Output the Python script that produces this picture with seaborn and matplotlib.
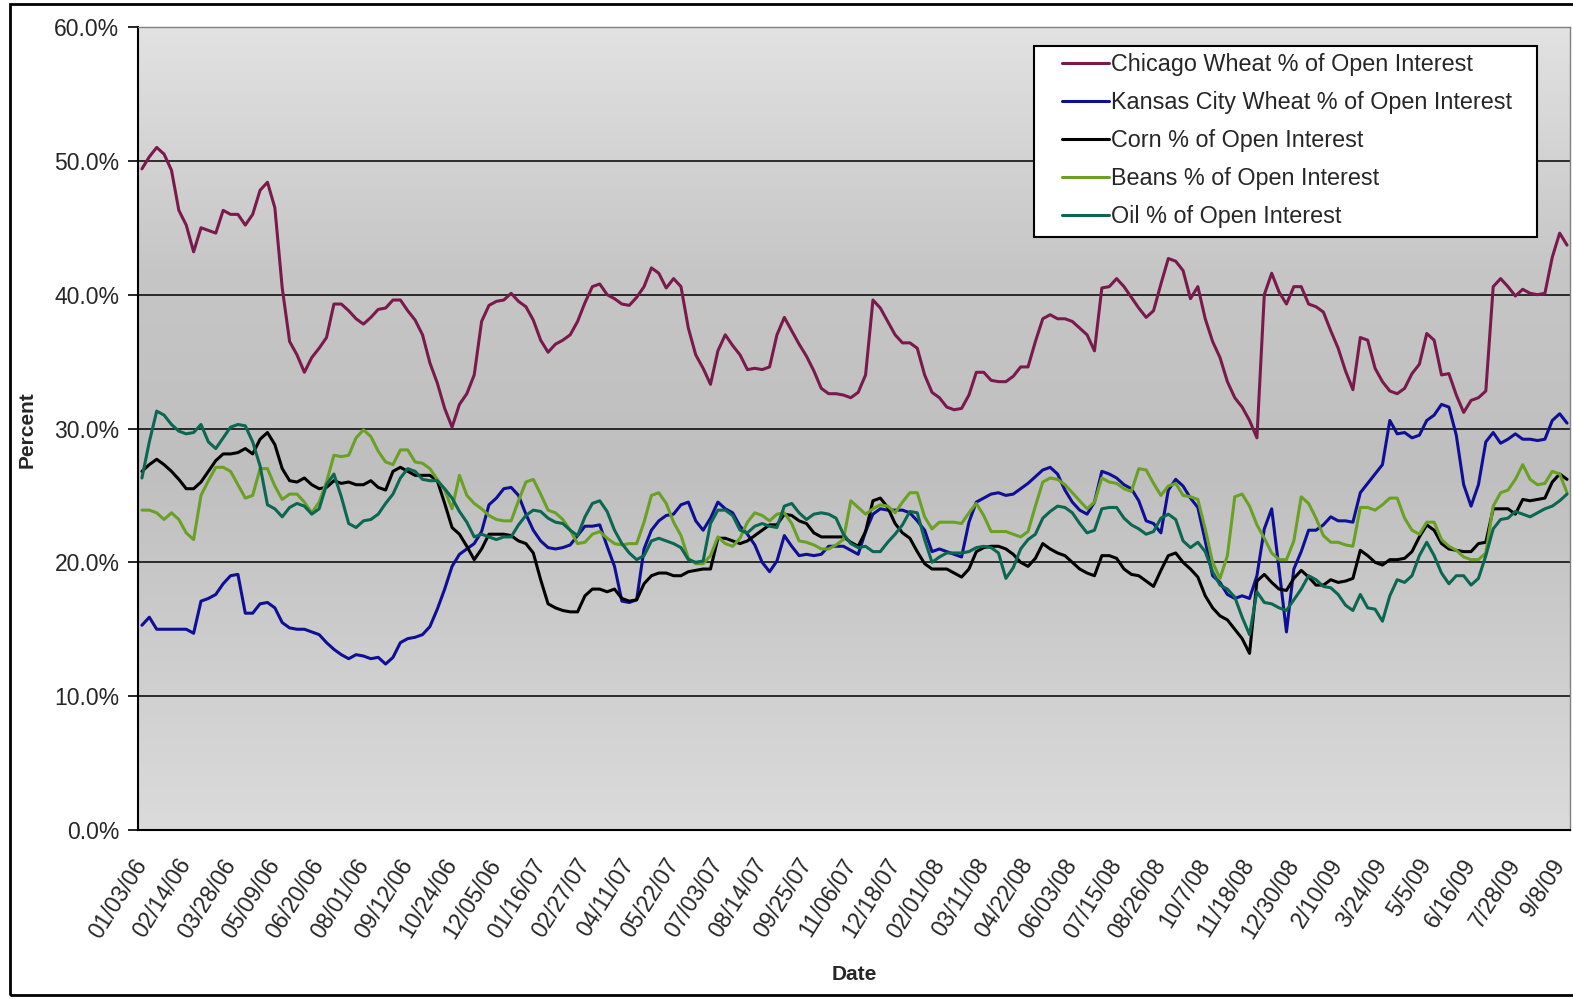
import numpy as np
import pandas as pd
import matplotlib
matplotlib.use("Agg")
import matplotlib.pyplot as plt
import seaborn as sns
from matplotlib.colors import LinearSegmentedColormap
from matplotlib.patches import Rectangle
from matplotlib.ticker import FuncFormatter

# tick labels, one every 6 weeks
tick_dates = ["01/03/06", "02/14/06", "03/28/06", "05/09/06", "06/20/06", "08/01/06",
              "09/12/06", "10/24/06", "12/05/06", "01/16/07", "02/27/07", "04/11/07",
              "05/22/07", "07/03/07", "08/14/07", "09/25/07", "11/06/07", "12/18/07",
              "02/01/08", "03/11/08", "04/22/08", "06/03/08", "07/15/08", "08/26/08",
              "10/7/08", "11/18/08", "12/30/08", "2/10/09", "3/24/09", "5/5/09",
              "6/16/09", "7/28/09", "9/8/09"]

# weekly values, percent of open interest
chicago_wheat = [
    49.4, 50.3, 51.0, 50.5, 49.3, 46.3, 45.2, 43.2, 45.0, 44.8,
    44.6, 46.3, 46.0, 46.0, 45.2, 46.0, 47.8, 48.4, 46.5, 40.5,
    36.5, 35.5, 34.2, 35.3, 36.0, 36.8, 39.3, 39.3, 38.8, 38.2,
    37.8, 38.3, 38.9, 39.0, 39.6, 39.6, 38.8, 38.1, 37.0, 34.9,
    33.4, 31.5, 30.1, 31.8, 32.6, 34.0, 38.0, 39.2, 39.5, 39.6,
    40.1, 39.5, 39.1, 38.1, 36.6, 35.7, 36.3, 36.6, 37.0, 38.0,
    39.4, 40.6, 40.8, 40.0, 39.7, 39.3, 39.2, 39.8, 40.6, 42.0,
    41.6, 40.5, 41.2, 40.6, 37.5, 35.5, 34.5, 33.3, 35.8, 37.0,
    36.2, 35.5, 34.4, 34.5, 34.4, 34.6, 37.0, 38.3, 37.3, 36.3,
    35.4, 34.3, 33.0, 32.6, 32.6, 32.5, 32.3, 32.7, 34.0, 39.6,
    39.0, 38.0, 37.0, 36.4, 36.4, 36.0, 34.0, 32.7, 32.3, 31.6,
    31.4, 31.5, 32.5, 34.2, 34.2, 33.6, 33.5, 33.5, 33.9, 34.6,
    34.6, 36.5, 38.2, 38.5, 38.2, 38.2, 38.0, 37.5, 37.0, 35.8,
    40.5, 40.6, 41.2, 40.6, 39.8, 39.0, 38.3, 38.8, 40.8, 42.7,
    42.5, 41.8, 39.7, 40.6, 38.2, 36.5, 35.3, 33.5, 32.3, 31.6,
    30.6, 29.3, 40.0, 41.6, 40.2, 39.3, 40.6, 40.6, 39.3, 39.1,
    38.7, 37.3, 36.0, 34.3, 32.9, 36.8, 36.6, 34.5, 33.5, 32.8,
    32.6, 33.0, 34.1, 34.8, 37.1, 36.6, 34.0, 34.1, 32.5, 31.2,
    32.1, 32.3, 32.8, 40.6, 41.2, 40.6, 39.9, 40.4, 40.1, 40.0,
    40.1, 42.8, 44.6, 43.7]

kc_wheat = [
    15.3, 15.9, 15.0, 15.0, 15.0, 15.0, 15.0, 14.7, 17.1, 17.3,
    17.6, 18.4, 19.0, 19.1, 16.2, 16.2, 16.9, 17.0, 16.6, 15.5,
    15.1, 15.0, 15.0, 14.8, 14.6, 14.0, 13.5, 13.1, 12.8, 13.1,
    13.0, 12.8, 12.9, 12.4, 12.9, 14.0, 14.3, 14.4, 14.6, 15.2,
    16.5, 18.0, 19.7, 20.6, 21.0, 21.4, 22.3, 24.3, 24.8, 25.5,
    25.6, 25.0, 23.6, 22.4, 21.6, 21.1, 21.0, 21.1, 21.3, 22.0,
    22.7, 22.7, 22.8, 21.2, 19.7, 17.1, 17.0, 17.2, 21.0, 22.4,
    23.1, 23.5, 23.6, 24.3, 24.5, 23.1, 22.4, 23.3, 24.5, 24.0,
    23.7, 22.7, 22.1, 21.3, 20.0, 19.3, 20.1, 22.0, 21.2, 20.5,
    20.6, 20.5, 20.6, 21.2, 21.2, 21.2, 20.9, 20.6, 22.3, 23.6,
    24.0, 23.9, 23.9, 23.9, 23.7, 23.1, 22.4, 20.8, 21.0, 20.8,
    20.6, 20.4, 23.0, 24.5, 24.8, 25.1, 25.2, 25.0, 25.1, 25.5,
    25.9, 26.4, 26.9, 27.1, 26.6, 25.4, 24.5, 23.9, 23.6, 24.5,
    26.8, 26.6, 26.3, 25.8, 25.5, 24.6, 23.1, 22.9, 22.2, 25.4,
    26.2, 25.7, 24.8, 24.1, 21.6, 19.0, 18.5, 17.6, 17.3, 17.5,
    17.3, 19.0, 22.5, 24.0, 19.5, 14.8, 19.5, 20.8, 22.4, 22.4,
    22.8, 23.4, 23.1, 23.1, 23.0, 25.2, 25.9, 26.6, 27.3, 30.6,
    29.6, 29.7, 29.3, 29.5, 30.6, 31.0, 31.8, 31.6, 29.5, 25.8,
    24.2, 25.8, 29.0, 29.7, 28.9, 29.2, 29.6, 29.2, 29.2, 29.1,
    29.2, 30.6, 31.1, 30.4]

corn = [
    26.8, 27.3, 27.7, 27.3, 26.8, 26.2, 25.5, 25.5, 26.0, 26.8,
    27.6, 28.1, 28.1, 28.2, 28.5, 28.1, 29.2, 29.7, 28.8, 27.0,
    26.1, 26.0, 26.3, 25.8, 25.5, 25.6, 26.1, 25.9, 26.0, 25.8,
    25.8, 26.1, 25.6, 25.4, 26.8, 27.1, 26.8, 26.5, 26.5, 26.5,
    26.1, 24.4, 22.6, 22.1, 21.2, 20.2, 21.0, 22.1, 22.1, 22.1,
    22.0, 21.6, 21.4, 20.7, 18.7, 16.9, 16.6, 16.4, 16.3, 16.3,
    17.5, 18.0, 18.0, 17.8, 18.0, 17.3, 17.1, 17.2, 18.4, 19.0,
    19.2, 19.2, 19.0, 19.0, 19.3, 19.4, 19.5, 19.5, 21.8, 21.8,
    21.6, 21.4, 21.6, 22.0, 22.4, 22.8, 22.8, 23.6, 23.5, 23.1,
    22.9, 22.2, 21.9, 21.9, 21.9, 21.9, 21.5, 21.2, 22.3, 24.6,
    24.8, 24.1, 22.9, 22.2, 21.8, 20.8, 19.9, 19.5, 19.5, 19.5,
    19.2, 18.9, 19.5, 20.8, 21.1, 21.2, 21.2, 21.0, 20.6, 20.0,
    19.7, 20.3, 21.4, 21.0, 20.7, 20.5, 20.0, 19.5, 19.2, 19.0,
    20.5, 20.5, 20.3, 19.5, 19.1, 19.0, 18.6, 18.2, 19.4, 20.5,
    20.7, 20.0, 19.5, 18.9, 17.5, 16.6, 16.0, 15.7, 15.0, 14.3,
    13.2, 18.6, 19.1, 18.5, 18.0, 17.9, 18.8, 19.4, 18.9, 18.3,
    18.3, 18.7, 18.5, 18.6, 18.8, 20.9, 20.5, 20.0, 19.8, 20.2,
    20.2, 20.3, 20.8, 21.9, 22.8, 22.4, 21.4, 21.0, 20.9, 20.8,
    20.8, 21.4, 21.5, 24.0, 24.0, 24.0, 23.6, 24.7, 24.6, 24.7,
    24.8, 26.0, 26.6, 26.2]

beans = [
    23.9, 23.9, 23.7, 23.2, 23.7, 23.2, 22.2, 21.7, 25.0, 26.1,
    27.1, 27.1, 26.8, 25.8, 24.8, 25.0, 27.0, 27.0, 25.7, 24.7,
    25.1, 25.1, 24.5, 23.7, 24.5, 26.0, 28.0, 27.9, 28.0, 29.3,
    29.9, 29.4, 28.3, 27.5, 27.3, 28.4, 28.4, 27.5, 27.4, 27.0,
    26.2, 25.4, 24.0, 26.5, 25.0, 24.4, 24.0, 23.5, 23.2, 23.1,
    23.1, 24.6, 26.0, 26.2, 25.1, 23.9, 23.7, 23.2, 22.4, 21.4,
    21.5, 22.1, 22.3, 21.8, 21.4, 21.3, 21.4, 21.4, 23.0, 25.0,
    25.2, 24.4, 23.0, 22.0, 20.3, 19.9, 19.9, 20.5, 21.9, 21.4,
    21.2, 21.8, 23.0, 23.7, 23.5, 23.1, 23.6, 23.7, 22.9, 21.6,
    21.5, 21.3, 21.0, 21.0, 21.3, 21.7, 24.6, 24.1, 23.6, 24.0,
    24.3, 24.2, 23.7, 24.5, 25.2, 25.2, 23.4, 22.5, 23.0, 23.0,
    23.0, 22.9, 23.7, 24.4, 23.5, 22.3, 22.3, 22.3, 22.1, 21.9,
    22.3, 24.2, 26.0, 26.3, 26.2, 25.8, 25.2, 24.6, 24.0, 24.5,
    26.3, 26.0, 25.9, 25.5, 25.3, 27.0, 26.9, 25.9, 25.0, 25.7,
    25.9, 25.0, 24.9, 24.7, 22.5, 20.0, 18.8, 20.5, 24.9, 25.1,
    24.2, 22.8, 21.8, 20.7, 20.2, 20.2, 21.6, 24.9, 24.4, 23.3,
    22.0, 21.5, 21.5, 21.3, 21.2, 24.1, 24.1, 23.9, 24.3, 24.8,
    24.8, 23.3, 22.4, 22.1, 23.0, 23.0, 21.7, 21.2, 20.9, 20.4,
    20.2, 20.2, 20.7, 24.2, 25.2, 25.4, 26.2, 27.3, 26.2, 25.8,
    25.9, 26.8, 26.6, 25.2]

oil = [
    26.3, 29.0, 31.3, 31.0, 30.3, 29.8, 29.6, 29.7, 30.3, 29.0,
    28.5, 29.3, 30.1, 30.3, 30.2, 29.0, 27.2, 24.3, 24.0, 23.4,
    24.1, 24.4, 24.2, 23.6, 24.0, 25.8, 26.6, 24.9, 22.9, 22.6,
    23.1, 23.2, 23.6, 24.4, 25.1, 26.3, 27.0, 26.8, 26.2, 26.1,
    26.1, 25.5, 24.8, 23.8, 23.0, 21.9, 22.1, 21.9, 21.7, 21.9,
    21.9, 22.8, 23.5, 23.9, 23.8, 23.3, 23.0, 22.9, 22.4, 22.0,
    23.4, 24.4, 24.6, 23.8, 22.4, 21.4, 20.7, 20.2, 20.5, 21.6,
    21.8, 21.6, 21.4, 21.1, 20.2, 20.0, 20.1, 22.9, 23.9, 23.9,
    23.5, 22.4, 22.2, 22.7, 22.9, 22.7, 22.6, 24.2, 24.4, 23.7,
    23.2, 23.6, 23.7, 23.6, 23.3, 22.1, 21.4, 21.1, 21.2, 20.8,
    20.8, 21.5, 22.1, 22.8, 23.8, 23.7, 21.7, 20.0, 20.4, 20.7,
    20.7, 20.7, 20.8, 21.1, 21.2, 21.1, 20.7, 18.8, 19.6, 21.0,
    21.7, 22.1, 23.3, 23.8, 24.2, 24.1, 23.7, 22.9, 22.2, 22.4,
    24.0, 24.1, 24.1, 23.3, 22.8, 22.5, 22.1, 22.3, 23.3, 23.6,
    23.2, 21.6, 21.1, 21.5, 20.8, 19.3, 18.3, 18.0, 17.4, 15.9,
    14.6, 17.8, 17.0, 16.9, 16.6, 16.4, 17.2, 18.0, 19.0, 18.7,
    18.2, 18.1, 17.6, 16.8, 16.4, 17.6, 16.6, 16.5, 15.6, 17.5,
    18.7, 18.5, 19.0, 20.5, 21.5, 20.5, 19.2, 18.4, 19.0, 19.0,
    18.3, 18.8, 20.5, 22.5, 23.2, 23.3, 23.8, 23.6, 23.4, 23.7,
    24.0, 24.2, 24.6, 25.1]

series_names = ["Chicago Wheat % of Open Interest",
                "Kansas City Wheat % of Open Interest",
                "Corn % of Open Interest",
                "Beans % of Open Interest",
                "Oil % of Open Interest"]
series_colors = ["#7a1a4c", "#0f0f96", "#000000", "#6aa024", "#0b6652"]

sns.set_style("white")
plt.rcParams["font.family"] = ["Liberation Sans", "DejaVu Sans"]

# long-form table for seaborn
n_weeks = len(chicago_wheat)
wide = pd.DataFrame({"week": np.arange(n_weeks)})
for name, vals in zip(series_names, [chicago_wheat, kc_wheat, corn, beans, oil]):
    wide[name] = vals
data = wide.melt(id_vars="week", var_name="series", value_name="pct")

W, H = 1573, 999
fig = plt.figure(figsize=(W / 100, H / 100), dpi=100)
ax = fig.add_axes([137.5 / W, 1 - 830 / H, (1570 - 137.5) / W, (830 - 27) / H])

x_lo, x_hi = -0.6, n_weeks - 0.6

# grey gradient plot area
grad = np.linspace(0, 1, 256).reshape(-1, 1)
fill_cmap = LinearSegmentedColormap.from_list(
    "fill", [(0, "#dbdbdb"), (0.45, "#bfbfbf"), (0.7, "#c6c6c6"), (1, "#e2e2e2")])
ax.imshow(grad, extent=[x_lo, x_hi, 0, 60], origin="lower", aspect="auto",
          cmap=fill_cmap, zorder=0)

sns.lineplot(data=data, x="week", y="pct", hue="series", hue_order=series_names,
             palette=dict(zip(series_names, series_colors)), linewidth=2.2,
             ax=ax, zorder=3)

ax.set_xlim(x_lo, x_hi)
ax.set_ylim(0, 60)
ax.set_axisbelow(True)
ax.set_yticks(np.arange(0, 61, 10))
ax.yaxis.set_major_formatter(FuncFormatter(lambda v, p: f"{v:.1f}%"))
ax.yaxis.grid(True, color="black", linewidth=1.1)
ax.xaxis.grid(False)
ax.tick_params(axis="y", length=7, width=1.2, color="black", labelsize=16.5, pad=6,
               direction="out", left=True)
ax.set_xticks(np.arange(0, n_weeks, 6))
ax.set_xticklabels(tick_dates, rotation=58, ha="right", va="center",
                   rotation_mode="anchor", fontsize=16.5)
ax.tick_params(axis="x", length=0, pad=22)
ax.set_xlabel("")
ax.set_ylabel("")

for side in ["left", "bottom"]:
    ax.spines[side].set_color("black")
    ax.spines[side].set_linewidth(1.5)
for side in ["top", "right"]:
    ax.spines[side].set_color("#808080")
    ax.spines[side].set_linewidth(1.0)

fig.text(27 / W, 1 - 430 / H, "Percent", rotation=90, ha="center", va="center",
         fontsize=15, fontweight="bold")
fig.text(854 / W, 1 - 974 / H, "Date", ha="center", va="center",
         fontsize=15, fontweight="bold")

# legend with its own box
old = ax.get_legend()
handles = old.legend_handles
labels = [t.get_text() for t in old.get_texts()]
old.remove()
box = Rectangle((1034 / W, 1 - 237 / H), (1537 - 1034) / W, (237 - 46) / H,
                transform=fig.transFigure, facecolor="white", edgecolor="black",
                linewidth=1.5, zorder=4, clip_on=False)
ax.add_artist(box)
leg = ax.legend(handles, labels, loc="upper left",
                bbox_to_anchor=(1062 / W, 1 - 53 / H), bbox_transform=fig.transFigure,
                frameon=False, fontsize=16.8, handlelength=2.0, handletextpad=0.1,
                labelspacing=0.64, borderpad=0, borderaxespad=0)
leg.set_zorder(5)
for ln in leg.get_lines():
    ln.set_linewidth(2.2)

# outer chart frame
fig.add_artist(Rectangle((10 / W, 4 / H), 1.0, 991 / H, fill=False,
                         edgecolor="black", linewidth=2, transform=fig.transFigure))

fig.savefig("out.png", dpi=100)
